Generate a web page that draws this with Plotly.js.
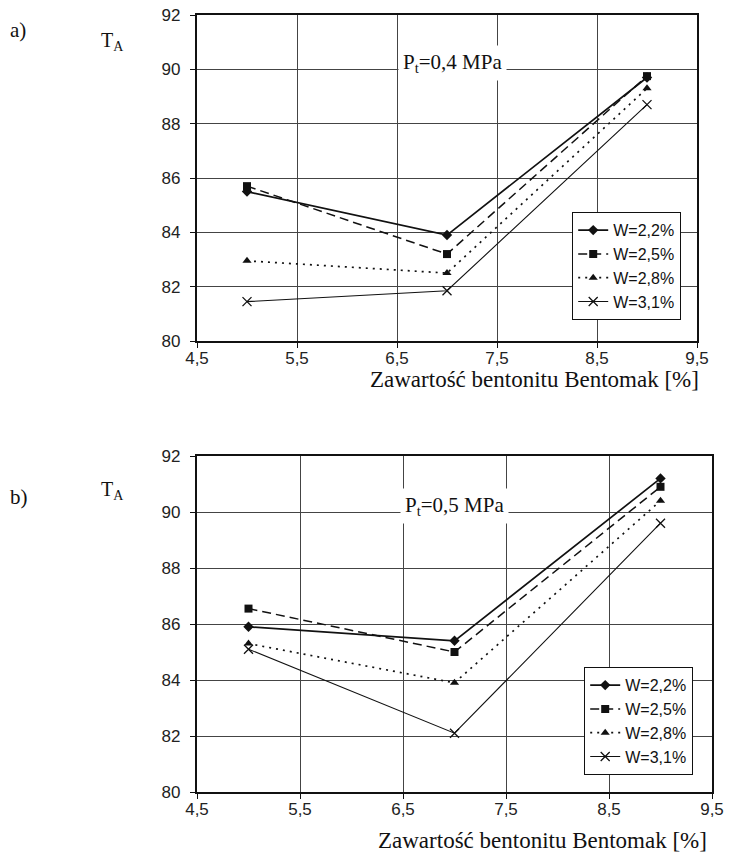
<!DOCTYPE html>
<html>
<head>
<meta charset="utf-8">
<script src="https://cdn.plot.ly/plotly-3.0.1.min.js"></script>
<style>html,body{margin:0;padding:0;background:#fff;}#chart{width:742px;height:853px;}</style>
</head>
<body>
<div id="chart"></div>
<script>
// ---- data ----
const bentonite = [5, 7, 9];
const seriesNames = ["W=2,2%", "W=2,5%", "W=2,8%", "W=3,1%"];
// panel a) Pt = 0,4 MPa
const topW22 = [85.5, 83.9, 89.7];
const topW25 = [85.7, 83.2, 89.75];
const topW28 = [82.95, 82.5, 89.3];
const topW31 = [81.45, 81.85, 88.7];
// panel b) Pt = 0,5 MPa
const botW22 = [85.9, 85.4, 91.2];
const botW25 = [86.55, 85.0, 90.9];
const botW28 = [85.3, 83.9, 90.4];
const botW31 = [85.1, 82.1, 89.6];
// tick labels
const xTickVals = [4.5, 5.5, 6.5, 7.5, 8.5, 9.5];
const xTickText = ["4,5", "5,5", "6,5", "7,5", "8,5", "9,5"];
const yTickVals = [80, 82, 84, 86, 88, 90, 92];
const xTitle = "Zawartość bentonitu Bentomak [%]";
const panelLabels = ["a)", "b)"];
const pressureLabels = ["P<sub>t</sub>=0,4 MPa", "P<sub>t</sub>=0,5 MPa"];

// ---- styles ----
const styles = [
  {marker: {symbol: "diamond", size: 8, color: "#111"}, line: {color: "#111", width: 1.7, dash: "solid"}},
  {marker: {symbol: "square", size: 8, color: "#111"}, line: {color: "#111", width: 1.5, dash: "9px,5px"}},
  {marker: {symbol: "triangle-up", size: 8, color: "#111"}, line: {color: "#111", width: 1.7, dash: "2px,5px"}},
  {marker: {symbol: "x-thin", size: 9, color: "#111", line: {color: "#111", width: 1.3}}, line: {color: "#111", width: 1.1, dash: "solid"}}
];

const topSeries = [topW22, topW25, topW28, topW31];
const botSeries = [botW22, botW25, botW28, botW31];
const traces = [];
topSeries.forEach((ys, i) => traces.push({
  x: bentonite, y: ys, name: seriesNames[i], type: "scatter", mode: "lines+markers",
  xaxis: "x", yaxis: "y", legend: "legend",
  marker: styles[i].marker, line: styles[i].line
}));
botSeries.forEach((ys, i) => traces.push({
  x: bentonite, y: ys, name: seriesNames[i], type: "scatter", mode: "lines+markers",
  xaxis: "x2", yaxis: "y2", legend: "legend2",
  marker: styles[i].marker, line: styles[i].line
}));

const W = 742, H = 853;
const px = v => v / W;
const py = v => 1 - v / H;

const tickFont = {family: "Liberation Sans, Arial, sans-serif", size: 17, color: "#222"};
function xAxis(domain, anchor) {
  return {
    domain: domain, anchor: anchor, range: [4.5, 9.5], tickmode: "array",
    tickvals: xTickVals, ticktext: xTickText, ticks: "outside", ticklen: 5, tickwidth: 1,
    tickcolor: "#111", showline: true, linewidth: 2.2, linecolor: "#111", mirror: true,
    showgrid: true, gridcolor: "#444", gridwidth: 1, zeroline: false,
    tickfont: tickFont, ticklabelstandoff: -5, fixedrange: true
  };
}
function yAxis(domain, anchor) {
  return {
    domain: domain, anchor: anchor, range: [80, 92], tickmode: "array",
    tickvals: yTickVals, ticks: "outside", ticklen: 5, tickwidth: 1,
    tickcolor: "#111", showline: true, linewidth: 2.2, linecolor: "#111", mirror: true,
    showgrid: true, gridcolor: "#444", gridwidth: 1, zeroline: false,
    tickfont: tickFont, ticklabelstandoff: 6, fixedrange: true
  };
}

const serif = "Liberation Serif, Times New Roman, serif";
const legendStyle = (x, y) => ({
  x: x, y: y, xanchor: "left", yanchor: "top", bgcolor: "#fff",
  bordercolor: "#111", borderwidth: 1.2,
  font: {family: "Liberation Sans, Arial, sans-serif", size: 16, color: "#111"},
  tracegroupgap: 0, itemwidth: 30
});

const annotations = [
  {text: panelLabels[0], xref: "paper", yref: "paper", x: px(8), y: py(30), xanchor: "left", yanchor: "middle", showarrow: false, font: {family: serif, size: 21, color: "#111"}},
  {text: panelLabels[1], xref: "paper", yref: "paper", x: px(8), y: py(497), xanchor: "left", yanchor: "middle", showarrow: false, font: {family: serif, size: 21, color: "#111"}},
  {text: "T<sub>A</sub>", xref: "paper", yref: "paper", x: px(99), y: py(42), xanchor: "left", yanchor: "middle", showarrow: false, font: {family: serif, size: 20, color: "#111"}},
  {text: "T<sub>A</sub>", xref: "paper", yref: "paper", x: px(99), y: py(490), xanchor: "left", yanchor: "middle", showarrow: false, font: {family: serif, size: 20, color: "#111"}},
  {text: pressureLabels[0], xref: "x", yref: "y", x: 7.05, y: 90.25, xanchor: "center", yanchor: "middle", showarrow: false, bgcolor: "#fff", borderpad: 4, font: {family: serif, size: 21, color: "#111"}},
  {text: pressureLabels[1], xref: "x2", yref: "y2", x: 7.0, y: 90.22, xanchor: "center", yanchor: "middle", showarrow: false, bgcolor: "#fff", borderpad: 4, font: {family: serif, size: 21, color: "#111"}},
  {text: xTitle, xref: "paper", yref: "paper", x: px(534), y: py(379), xanchor: "center", yanchor: "middle", showarrow: false, font: {family: serif, size: 23, color: "#111"}},
  {text: xTitle, xref: "paper", yref: "paper", x: px(542), y: py(840), xanchor: "center", yanchor: "middle", showarrow: false, font: {family: serif, size: 23, color: "#111"}}
];

const layout = {
  width: W, height: H, margin: {l: 0, r: 0, t: 0, b: 0},
  paper_bgcolor: "#fff", plot_bgcolor: "#fff", showlegend: true,
  xaxis: xAxis([px(197), px(697)], "y"),
  yaxis: yAxis([py(341), py(15)], "x"),
  xaxis2: xAxis([px(197), px(712)], "y2"),
  yaxis2: yAxis([py(792), py(456)], "x2"),
  legend: legendStyle(px(572), py(212)),
  legend2: legendStyle(px(584), py(667)),
  annotations: annotations
};

Plotly.newPlot("chart", traces, layout, {displayModeBar: false, staticPlot: true});
</script>
</body>
</html>
